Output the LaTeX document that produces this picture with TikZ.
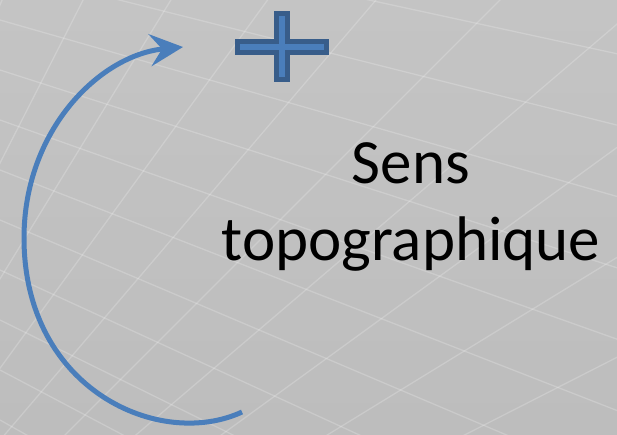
\documentclass[tikz,border=0pt]{standalone}
\usepackage{fontspec}
\setmainfont{Carlito}
\usetikzlibrary{arrows.meta}
\definecolor{bgtop}{HTML}{C4C4C4}
\definecolor{bgbot}{HTML}{BDBDBD}
\definecolor{arrowblue}{HTML}{4A7EBB}
\definecolor{plusfill}{HTML}{4A7EBB}
\definecolor{plusline}{HTML}{385D8A}
\tikzset{
  gridline/.style={white, opacity=0.2, line width=1.3pt},
  turnarrow/.style={arrowblue, line width=5pt,
    -{Stealth[length=33pt, width=32pt, inset=12pt]}},
  plusshape/.style={fill=plusfill, draw=plusline, line width=5pt, miter limit=10},
  label/.style={font=\fontsize{63}{77}\selectfont, align=center, text=black, inner sep=0pt}
}
\begin{document}
\begin{tikzpicture}[x=1pt, y=-1pt]
\useasboundingbox (0,0) rectangle (617,434);
\shade[top color=bgtop, bottom color=bgbot] (0,0) rectangle (617,434);
\begin{scope}
  \clip (0,0) rectangle (617,434);
  \foreach \a in {-130,-80,...,440} {
    \draw[gridline] (0,\a) -- (617,{225+1.427*(\a-40)});
  }
  \foreach \t in {18,22.5,...,72} {
    \draw[gridline] (-350,850) -- ++({1600*cos(\t)},{-1600*sin(\t)});
  }
\end{scope}
% plus sign
\path[plusshape] (276.5,13.5) -- (287.5,13.5) -- (287.5,41.5) -- (326.5,41.5)
  -- (326.5,52.5) -- (287.5,52.5) -- (287.5,79.5) -- (276.5,79.5)
  -- (276.5,52.5) -- (237.5,52.5) -- (237.5,41.5) -- (276.5,41.5) -- cycle;
% curved arrow
\coordinate (arrowStart) at (242,412);
\coordinate (leftmost) at (24,238);
\coordinate (arrowTip) at (183,47);
\draw[turnarrow] (arrowStart) .. controls (160,450) and (24,390) .. (leftmost)
  .. controls (24,130) and (100,55) .. (arrowTip);
% text
\node[label, anchor=base] (sens) at (411,260) {Sens\\topographique};
\end{tikzpicture}
\end{document}
